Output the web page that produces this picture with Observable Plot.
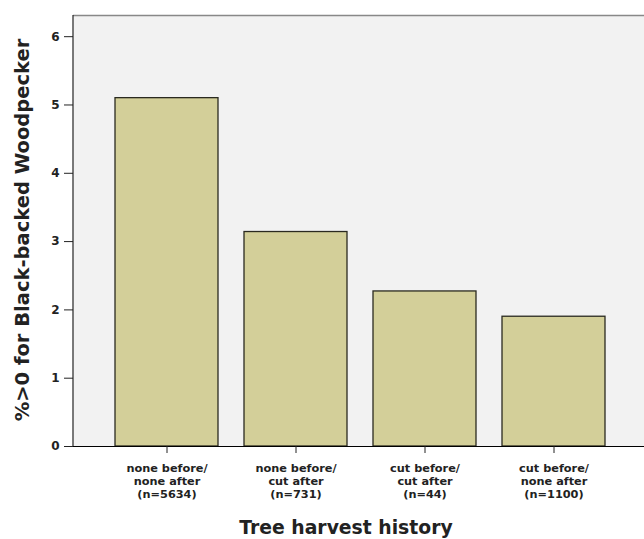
<!DOCTYPE html>
<html><head><meta charset="utf-8">
<script src="https://cdn.jsdelivr.net/npm/d3@7"></script>
<script src="https://cdn.jsdelivr.net/npm/@observablehq/plot@0.6"></script>
<style>body{margin:0;background:#fff;} svg{display:block;}</style>
</head><body>
<div id="chart"></div>
<script>
const categories = ["none before/\nnone after\n(n=5634)", "none before/\ncut after\n(n=731)", "cut before/\ncut after\n(n=44)", "cut before/\nnone after\n(n=1100)"];
const values = [5.1, 3.14, 2.27, 1.9];
const yTicks = [0, 1, 2, 3, 4, 5, 6];
const xTitle = "Tree harvest history";
const yTitle = "%>0 for Black-backed Woodpecker";

const data = categories.map((c, i) => ({cat: c, v: values[i]}));
const yMax = 6.31;

const chart = Plot.plot({
  width: 644, height: 539,
  marginTop: 15, marginBottom: 93, marginLeft: 73, marginRight: 0,
  style: {fontFamily: "'DejaVu Sans', sans-serif", fontWeight: "bold", color: "#222", background: "#fff"},
  x: {domain: categories, range: [73, 648], paddingInner: 0.2, paddingOuter: 0.325, label: null},
  y: {domain: [0, yMax], label: null},
  marks: [
    Plot.frame({fill: "#f2f2f2", stroke: null}),
    Plot.ruleY([yMax], {stroke: "#888", strokeWidth: 1.5}),
    Plot.barY(data, {x: "cat", y: "v", fill: "#d3cf99", stroke: "#2a2a20", strokeWidth: 1.3}),
    Plot.ruleY([0], {stroke: "#000", strokeWidth: 1.2}),
    Plot.axisY({ticks: yTicks, tickFormat: "d", tickSize: 9, tickPadding: 5, fontSize: 12, fontWeight: "bold", label: null, stroke: "#222"}),
    Plot.axisX({tickSize: 7, tickPadding: 9, fontSize: 11.3, fontWeight: "bold", lineHeight: 1.15, label: null, stroke: "#222"})
  ]
});
document.getElementById("chart").appendChild(chart);

const svg = d3.select(chart);
svg.append("line").attr("x1", 73).attr("x2", 73).attr("y1", 15).attr("y2", 446).attr("stroke", "#222").attr("stroke-width", 1.2);
svg.append("text").text(yTitle)
  .attr("transform", "translate(29,230) rotate(-90)")
  .attr("text-anchor", "middle").attr("font-size", 19.5).attr("font-weight", "bold").attr("fill", "#222");
svg.append("text").text(xTitle)
  .attr("x", 346).attr("y", 534)
  .attr("text-anchor", "middle").attr("font-size", 18.8).attr("font-weight", "bold").attr("fill", "#222");
</script>
</body></html>
